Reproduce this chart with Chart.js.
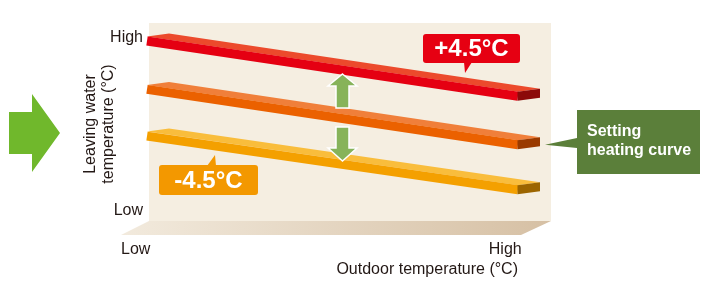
<!DOCTYPE html>
<html lang="en">
<head>
<meta charset="UTF-8" />
<title>Setting heating curve</title>
<script src="https://cdn.jsdelivr.net/npm/chart.js"></script>
<style>
  body { margin: 0; background: #fff; }
  .wrap { width: 702px; height: 284px; position: relative; }
</style>
</head>
<body>
<div class="wrap"><canvas id="curveChart"></canvas></div>
<script>
  // Outdoor temperature: start (Low side) and end (High side) of each curve
  const outdoorTemp = [0, 10];
  // Leaving water temperature on a relative scale, 0 = Low .. 100 = High
  const plusCurve = [98, 66];     // setting +4.5°C
  const settingCurve = [70, 38];  // setting heating curve
  const minusCurve = [43, 12];    // setting -4.5°C

  const xTickValues = [-0.7, 10.1];
  const xTickLabels = ['Low', 'High'];
  const yTickValues = [0, 100];
  const yTickLabels = ['Low', 'High'];

  const FONT = '"Liberation Sans", Arial, sans-serif';
  const TEXT = '#231815';
  const DX = 22, DY = -3, HALF = 4.5; // fake 3D depth of the bars

  function poly(ctx, pts, fill, stroke) {
    ctx.beginPath();
    ctx.moveTo(pts[0][0], pts[0][1]);
    for (let i = 1; i < pts.length; i++) ctx.lineTo(pts[i][0], pts[i][1]);
    ctx.closePath();
    ctx.fillStyle = fill;
    ctx.fill();
    if (stroke) {
      ctx.strokeStyle = stroke;
      ctx.lineWidth = 1.5;
      ctx.stroke();
    }
  }

  function callout(ctx, x, y, w, h, color, tip, text) {
    ctx.fillStyle = color;
    ctx.beginPath();
    ctx.roundRect(x, y, w, h, 3);
    ctx.fill();
    poly(ctx, tip, color);
    ctx.fillStyle = '#fff';
    ctx.font = 'bold 24px ' + FONT;
    ctx.textAlign = 'center';
    ctx.textBaseline = 'middle';
    ctx.fillText(text, x + w / 2, y + h / 2 + 1);
  }

  const scenery = {
    id: 'scenery',
    beforeDatasetsDraw(chart) {
      const { ctx, chartArea: a } = chart;
      const L = a.left + 2, R = a.right + 33, T = a.top - 14.5, B = a.bottom + 10.5;
      ctx.save();
      // back wall
      ctx.fillStyle = '#f5eee1';
      ctx.fillRect(L, T, R - L, B - T);
      // floor
      const g = ctx.createLinearGradient(L - 28, 0, R, 0);
      g.addColorStop(0, '#f2eadd');
      g.addColorStop(1, '#d6c0a4');
      poly(ctx, [[L, B], [R, B], [R - 30, B + 14], [L - 28, B + 14]], g);
      // top faces of the bars
      chart.data.datasets.forEach((ds, i) => {
        const pts = chart.getDatasetMeta(i).data;
        const p0 = pts[0], p1 = pts[pts.length - 1];
        poly(ctx, [
          [p0.x, p0.y - HALF], [p0.x + DX, p0.y - HALF + DY],
          [p1.x + DX, p1.y - HALF + DY], [p1.x, p1.y - HALF]
        ], ds.topColor);
      });
      ctx.restore();
    },
    afterDatasetsDraw(chart) {
      const { ctx } = chart;
      ctx.save();
      // end faces of the bars
      chart.data.datasets.forEach((ds, i) => {
        const pts = chart.getDatasetMeta(i).data;
        const p1 = pts[pts.length - 1];
        poly(ctx, [
          [p1.x - 0.5, p1.y - HALF], [p1.x - 0.5, p1.y + HALF],
          [p1.x + DX, p1.y + HALF + DY], [p1.x + DX, p1.y - HALF + DY]
        ], ds.endColor);
      });

      // big green arrow on the left
      poly(ctx, [[9, 112], [32, 112], [32, 94], [60, 133], [32, 172], [32, 154], [9, 154]], '#70b82c');

      // up / down arrows between the curves
      poly(ctx, [[342.5, 74], [357, 86], [349, 86], [349, 108], [336, 108], [336, 86], [328, 86]], '#87b35a', '#fff');
      poly(ctx, [[336, 127], [349, 127], [349, 148], [357, 148], [342.5, 161], [328, 148], [336, 148]], '#87b35a', '#fff');

      // callouts
      callout(ctx, 423, 34, 97, 29, '#e60012', [[464, 62], [465, 73], [472, 62]], '+4.5°C');
      callout(ctx, 159, 165, 99, 30, '#f39800', [[207, 166], [215, 155], [216, 166]], '-4.5°C');

      // setting heating curve box
      const set = chart.getDatasetMeta(1).data[1];
      poly(ctx, [[577, 138], [set.x + 27, set.y], [577, 148]], '#5b7f3a');
      ctx.fillStyle = '#5b7f3a';
      ctx.fillRect(577, 110, 123, 64);
      ctx.fillStyle = '#fff';
      ctx.font = 'bold 16px ' + FONT;
      ctx.textAlign = 'left';
      ctx.textBaseline = 'middle';
      ctx.fillText('Setting', 587, 132);
      ctx.fillText('heating curve', 587, 151);
      ctx.restore();
    }
  };

  const curve = (values, front, top, end) => ({
    data: values.map((v, i) => ({ x: outdoorTemp[i], y: v })),
    borderColor: front,
    borderWidth: 9,
    borderCapStyle: 'butt',
    pointRadius: 0,
    tension: 0,
    clip: false,
    topColor: top,
    endColor: end
  });

  new Chart(document.getElementById('curveChart'), {
    type: 'line',
    data: {
      datasets: [
        curve(plusCurve, '#e50012', '#ec4a2c', '#8c0a0a'),
        curve(settingCurve, '#eb6100', '#f07f3a', '#9a3a00'),
        curve(minusCurve, '#f4a000', '#f9bd3c', '#9c6500')
      ]
    },
    options: {
      responsive: true,
      maintainAspectRatio: false,
      animation: false,
      layout: { padding: { top: 37.5, right: 184, bottom: 0, left: 0 } },
      plugins: { legend: { display: false }, tooltip: { enabled: false } },
      scales: {
        x: {
          type: 'linear',
          min: 0,
          max: 10,
          grid: { display: false, drawTicks: false },
          border: { display: false },
          afterBuildTicks: s => { s.ticks = xTickValues.map(v => ({ value: v })); },
          afterFit: s => { s.height = 73.5; },
          ticks: {
            align: 'inner',
            padding: 29,
            color: TEXT,
            font: { family: FONT, size: 16 },
            callback: (v, i) => xTickLabels[i]
          },
          title: {
            display: true,
            text: 'Outdoor temperature (°C)',
            align: 'end',
            color: TEXT,
            font: { family: FONT, size: 16 },
            padding: { top: 0, bottom: 4.4 }
          }
        },
        y: {
          min: 0,
          max: 100,
          grid: { display: false, drawTicks: false },
          border: { display: false },
          afterBuildTicks: s => { s.ticks = yTickValues.map(v => ({ value: v })); },
          afterFit: s => { s.width = 147; },
          ticks: {
            padding: 4,
            color: TEXT,
            font: { family: FONT, size: 16 },
            callback: (v, i) => yTickLabels[i]
          },
          title: {
            display: true,
            text: ['Leaving water', 'temperature (°C)'],
            color: TEXT,
            font: { family: FONT, size: 16, lineHeight: 1.12 },
            padding: { top: 82, bottom: 0 }
          }
        }
      }
    },
    plugins: [scenery]
  });
</script>
</body>
</html>
